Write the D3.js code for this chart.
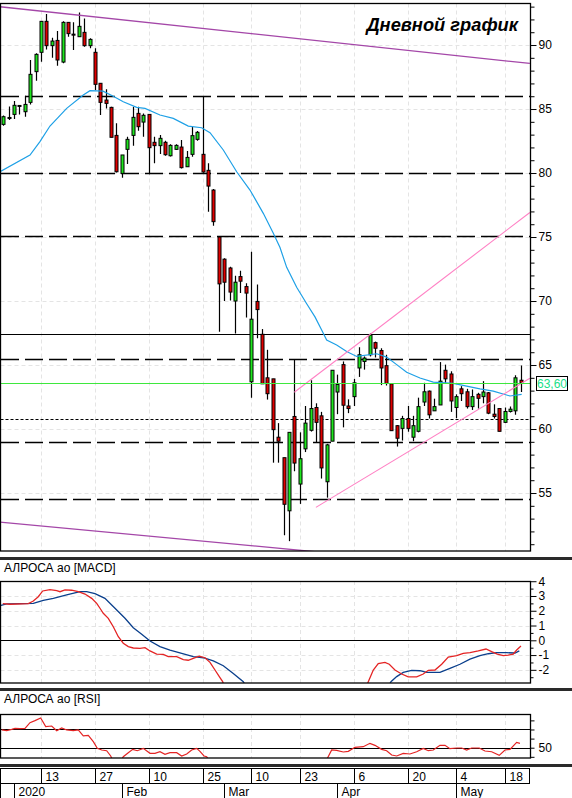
<!DOCTYPE html>
<html><head><meta charset="utf-8">
<script src="https://cdn.jsdelivr.net/npm/d3@7"></script>
<style>
html,body{margin:0;padding:0;background:#fff;}
svg{display:block;font-family:"Liberation Sans",Arial,sans-serif;}
</style></head><body>
<svg id="c" width="572" height="798"></svg>
<script>
// ---------- DATA ----------
const openP = [83.8,84.32,84.58,85.25,84.79,85.52,87.92,89.43,91.85,89.95,90.36,88.67,91.77,90.85,90.65,90.99,89.95,89.43,87.01,85.70,85.13,82.94,79.97,81.85,82.94,84.66,83.98,84.58,82.40,82.14,82.40,81.35,81.85,82.03,80.49,81.46,82.63,81.46,80.21,78.67,
75.00,73.27,72.58,70.00,71.91,71.13,63.69,69.97,67.40,64.00,63.92,59.36,57.76,53.61,60.98,55.70,58.45,59.90,61.68,61.03,55.88,59.05,62.89,65.03,61.80,62.53,64.77,65.28,65.80,66.75,66.13,64.95,63.53,60.26,60.05,60.82,59.36,59.82,62.11,62.96,61.42,61.88,64.59,64.30,61.68,63.14,62.91,61.75,62.71,62.53,62.83,61.16,61.60,60.52,61.37,61.42,63.81];
const highP = [84.5,85.2,85.63,85.3,86.04,88.83,89.35,91.85,92.42,90.57,91.09,91.85,91.77,91.77,92.55,92.08,90.52,89.74,87.01,86.54,85.18,83.88,81.41,82.84,85.18,85.18,84.66,84.58,82.84,82.97,82.53,82.24,82.24,82.58,81.72,83.62,83.28,85.96,80.76,78.75,
75.08,73.35,72.68,71.98,72.37,71.39,73.84,71.29,67.81,66.19,63.92,60.46,57.76,59.74,65.46,59.74,61.80,63.81,62.01,61.34,58.84,64.59,64.25,65.28,62.32,63.92,66.39,65.67,67.47,66.83,66.31,65.80,63.53,60.31,61.03,61.80,61.03,62.45,63.61,63.01,62.37,65.23,65.03,64.51,62.71,63.35,63.14,63.09,62.83,63.74,62.89,61.93,61.60,61.68,61.75,64.20,64.97];
const lowP = [83.7,84.15,84.22,84.58,84.40,85.36,87.21,88.70,89.66,89.01,88.39,88.57,90.65,89.61,90.65,89.87,89.74,86.48,84.53,85.05,82.79,80.05,79.64,80.70,82.14,83.31,82.84,79.90,80.76,81.48,81.35,81.30,81.80,80.36,80.49,81.28,82.53,80.03,76.98,75.89,
67.60,70.00,70.05,67.47,70.62,68.71,62.45,67.09,63.53,62.30,57.37,57.37,51.70,51.24,56.70,54.15,58.20,59.80,58.97,56.13,54.64,59.05,61.16,60.13,61.24,61.80,64.07,64.64,65.67,65.59,63.43,63.40,59.87,58.63,59.10,59.79,59.05,59.74,61.80,60.82,61.42,61.88,63.61,61.34,60.85,62.19,61.60,61.49,61.60,62.01,61.16,60.82,59.82,60.46,61.29,61.11,62.89];
const closeP = [84.4,84.34,85.29,85.28,85.36,87.71,89.27,91.85,89.95,90.31,88.83,91.77,90.89,90.80,91.46,89.95,90.44,86.93,85.52,85.44,82.79,80.10,81.41,82.63,84.35,83.62,84.51,81.98,82.14,82.71,81.43,82.16,82.16,80.42,81.22,82.92,83.18,80.08,78.98,76.20,
71.34,71.47,70.70,71.47,71.55,70.62,68.58,69.33,63.53,62.76,59.95,59.05,54.12,59.74,57.34,57.68,60.46,61.60,60.52,56.96,58.76,64.59,63.48,61.86,61.60,63.61,65.80,65.54,67.34,66.31,64.77,63.56,59.87,59.28,60.82,60.05,60.26,61.75,62.91,61.11,61.75,63.74,63.92,62.19,62.53,62.76,61.75,62.53,62.40,62.89,61.24,60.98,59.82,61.37,61.55,64.00,63.60];

// moving average : candle index / value
const maIdx = [-0.6,4.95,6.8,8.66,11.76,14.84,16.09,18.5,20.4,22.26,24.75,26.29,29.07,31.54,34.32,36.8,38.35,40.82,43.3,45.77,48.24,50.1,51.34,52.58,54.43,56.29,57.83,59.07,60.0,61.85,63.71,65.57,69.28,71.13,72.99,74.84,77.31,79.78,83.49,85.97,88.44,90.91,94.01,96.18];
const maVal = [80.1,81.4,82.45,83.67,85.05,86.1,86.43,86.4,86.0,85.57,85.13,85.05,84.53,84.27,83.67,83.54,83.15,81.8,80.1,78.67,76.85,75.29,74.18,72.63,71.08,69.79,68.76,67.73,66.96,66.57,66.06,65.67,65.88,65.62,65.03,64.43,63.99,63.66,63.56,63.35,63.14,62.96,62.58,62.71];

// horizontal levels
const dashedLevels = [85.99, 79.97, 75.05, 65.44, 58.96, 54.51];
const solidLevel = 67.40;
const dottedLevel = 60.78;
const lastPrice = 63.60;
const lastPriceLabel = "63,60";

// trend lines: [index, value] endpoints
const purpleLines = [[[-0.61, 92.99], [97.7, 88.56]], [[-0.61, 52.73], [60.0, 50.33]]];
const pinkLines = [[[54.0, 62.87], [97.7, 76.92]], [[58.0, 53.88], [97.7, 63.96]]];

// MACD (red) and signal (blue)
const macdIdx = [-0.1,1.24,4.64,5.57,6.49,7.31,8.66,9.91,10.52,11.45,12.69,13.91,15.16,16.4,17.33,17.94,18.55,19.48,20.41,21.34,22.26,23.19,24.12,25.36,26.29,27.22,28.46,29.68,30.61,32.17,33.4,34.32,35.25,36.36,37.42,38.35,39.28,40.2,40.7,41.0,55,67.4,67.72,68.65,69.57,70.81,71.61,72.67,73.91,75.14,76.7,77.92,78.85,80.09,81.34,82.56,84.12,85.34,86.59,88.13,89.56,90.61,91.65,92.76,93.69,94.62,95.25,96.05];
const macdVal = [2.48,2.44,2.48,2.66,2.95,3.34,3.43,3.36,3.29,3.41,3.39,3.29,3.13,2.84,2.50,2.17,1.83,1.49,0.92,0.24,-0.20,-0.43,-0.52,-0.54,-0.50,-0.72,-0.93,-0.95,-1.11,-1.11,-1.31,-1.35,-1.22,-1.08,-1.18,-1.49,-2.01,-2.53,-2.80,-3.1,null,-3.1,-2.80,-2.01,-1.58,-1.49,-1.62,-2.01,-2.28,-2.48,-2.48,-2.28,-2.03,-2.01,-1.62,-1.13,-1.04,-0.88,-0.84,-0.72,-0.59,-0.77,-0.93,-1.04,-1.0,-0.93,-0.66,-0.39];
const signalIdx = [-0.61,0.63,5.57,7.42,9.28,11.76,14.23,15.47,17.01,18.86,20.72,22.58,24.12,25.68,27.22,29.07,30.93,33.1,35.25,37.11,38.96,40.82,42.67,44.53,44.84,58,71.65,71.93,72.99,74.21,75.77,77.31,78.55,81.02,82.87,84.73,86.59,88.44,89.98,91.54,93.4,94.94,95.74];
const signalVal = [2.34,2.46,2.5,2.71,2.84,3.07,3.29,3.29,3.16,2.84,2.17,1.49,0.85,0.41,-0.05,-0.43,-0.66,-0.88,-1.11,-1.18,-1.40,-1.72,-2.24,-2.80,-3.0,null,-3.0,-2.80,-2.46,-2.17,-2.03,-2.06,-2.17,-2.17,-1.90,-1.62,-1.27,-1.04,-0.91,-0.84,-0.84,-0.86,-0.72];

// RSI
const rsiIdx = [-0.3,0.63,1.56,2.17,3.1,4.03,4.95,5.88,6.94,7.87,8.98,9.91,10.83,11.76,12.99,13.91,14.84,15.77,16.7,17.44,18.26,19.18,19.93,20.2,21,22.0,22.26,23.19,24.01,24.86,25.97,27.22,28.14,29.07,30.0,30.93,32.17,33.1,34.03,34.95,35.88,36.49,37.24,37.74,38.0,50,60.1,60.93,61.85,63.08,64.01,65.25,66.79,68.03,68.96,70.2,71.13,72.06,72.99,74.21,75.45,76.7,77.92,78.85,79.78,81.02,81.95,82.87,84.12,85.05,85.97,86.9,88.31,89.37,90.61,92.02,93.08,94.01,95.25,95.86];
const rsiVal = [69.5,68.7,70.2,71.3,70.9,71.3,77.5,79.7,82.6,73.1,73.8,68.7,71.6,69.5,68.7,69.5,62.9,63.6,56.6,49.3,47.5,46.7,40.9,37.5,null,37.5,40.1,44.5,48.2,46.7,49.3,43.8,43.8,45.6,42.7,44.5,44.5,40.9,43.1,47.5,49.3,46.0,40.9,40.1,37.5,null,38.0,47.5,47.1,45.3,46.0,50.4,51.1,54.8,52.6,48.2,46.7,42.0,40.9,43.8,43.1,45.6,49.3,46.7,47.5,52.6,52.6,48.9,49.7,49.7,47.5,49.7,49.7,46.4,45.6,41.6,47.5,48.2,55.9,54.8];

// axes labels
const priceTicks = [55,60,65,70,75,80,85,90];
const macdTicks = [4,3,2,1,0,-1,-2];
const rsiTicks = [40,50,60,70,80];
const rsiLabelled = [50];
const rsiLevels = [70,50];
const dateTickIdx = [7,17,27,37,46,55,65,75,84,93];
const dateTickLbl = ["13","27","10","25","10","23","6","20","4","18"];
const monthIdx = [2,22,41,62,84];
const monthLbl = ["2020","Feb","Mar","Apr","May"];
const chartTitle = "Дневной график";
const macdTitle = "АЛРОСА ао [MACD]";
const rsiTitle = "АЛРОСА ао [RSI]";

// ---------- DRAWING ----------
const svg = d3.select("#c");
const PL = 0.5, PR = 530.5;
const x = d3.scaleLinear().domain([0, 96]).range([3.3, 520.7]);
const yP = d3.scaleLinear().domain([50.47, 93.26]).range([551, 3.3]);
const yM = d3.scaleLinear().domain([-2.891, 4.015]).range([683, 581]);
const yR = d3.scaleLinear().domain([38.7, 87]).range([758, 714]);
const GRID = "#e4e4e4";

const defs = svg.append("defs");
function clip(id, y0, y1) {
  defs.append("clipPath").attr("id", id).append("rect")
    .attr("x", PL).attr("y", y0).attr("width", PR - PL).attr("height", y1 - y0);
}
clip("cp", 3.5, 551); clip("cm", 581, 683); clip("cr", 714, 758);

function vgrid(g, y0, y1) {
  g.selectAll(null).data(dateTickIdx).join("line")
    .attr("x1", d => Math.round(x(d)) + 0.5).attr("x2", d => Math.round(x(d)) + 0.5)
    .attr("y1", y0).attr("y2", y1)
    .attr("stroke", GRID).attr("stroke-dasharray", "4,3");
}
function hgrid(g, vals, sc) {
  g.selectAll(null).data(vals).join("line")
    .attr("x1", PL).attr("x2", PR)
    .attr("y1", d => Math.round(sc(d)) + 0.5).attr("y2", d => Math.round(sc(d)) + 0.5)
    .attr("stroke", GRID).attr("stroke-dasharray", "4,3");
}

// ===== main price panel =====
const gp = svg.append("g").attr("clip-path", "url(#cp)");
vgrid(gp, 3.5, 551);
hgrid(gp, priceTicks, yP);

gp.selectAll(null).data(dashedLevels).join("line")
  .attr("x1", 1).attr("x2", PR)
  .attr("y1", d => Math.round(yP(d)) + 0.5).attr("y2", d => Math.round(yP(d)) + 0.5)
  .attr("stroke", "#000").attr("stroke-width", 1.3).attr("stroke-dasharray", "18,6");
gp.append("line").attr("x1", PL).attr("x2", PR)
  .attr("y1", Math.round(yP(solidLevel)) + 0.5).attr("y2", Math.round(yP(solidLevel)) + 0.5)
  .attr("stroke", "#000").attr("stroke-width", 1.2);
gp.append("line").attr("x1", PL).attr("x2", PR)
  .attr("y1", Math.round(yP(dottedLevel)) + 0.5).attr("y2", Math.round(yP(dottedLevel)) + 0.5)
  .attr("stroke", "#000").attr("stroke-width", 1.2).attr("stroke-dasharray", "3,2");

// candles
const idx = d3.range(openP.length);
const cg = gp.append("g");
cg.selectAll("line.w").data(idx).join("line").attr("class", "w")
  .attr("x1", i => Math.round(x(i)) + 0.5).attr("x2", i => Math.round(x(i)) + 0.5)
  .attr("y1", i => yP(highP[i])).attr("y2", i => yP(lowP[i]))
  .attr("stroke", "#000").attr("stroke-width", 1.2);
cg.selectAll("rect.b").data(idx).join("rect").attr("class", "b")
  .attr("x", i => Math.round(x(i)) - 1).attr("width", 3)
  .attr("y", i => yP(Math.max(openP[i], closeP[i])))
  .attr("height", i => Math.max(1, Math.abs(yP(openP[i]) - yP(closeP[i]))))
  .attr("fill", i => closeP[i] >= openP[i] ? "#1ee61e" : "#e00000")
  .attr("stroke", "#000").attr("stroke-width", 1);

// moving average
gp.append("path").datum(maIdx.map((d, i) => [d, maVal[i]]))
  .attr("d", d3.line().x(d => x(d[0])).y(d => yP(d[1])))
  .attr("fill", "none").attr("stroke", "#1ea0e6").attr("stroke-width", 1.2);

// trend lines
purpleLines.forEach(l => gp.append("line")
  .attr("x1", x(l[0][0])).attr("y1", yP(l[0][1])).attr("x2", x(l[1][0])).attr("y2", yP(l[1][1]))
  .attr("stroke", "#a447a8").attr("stroke-width", 1.3));
pinkLines.forEach(l => gp.append("line")
  .attr("x1", x(l[0][0])).attr("y1", yP(l[0][1])).attr("x2", x(l[1][0])).attr("y2", yP(l[1][1]))
  .attr("stroke", "#ff80c4").attr("stroke-width", 1.1));

// last price line
gp.append("line").attr("x1", PL).attr("x2", PR)
  .attr("y1", Math.round(yP(lastPrice)) + 0.5).attr("y2", Math.round(yP(lastPrice)) + 0.5)
  .attr("stroke", "#3ee83e").attr("stroke-width", 1);

// frame
svg.append("rect").attr("x", 0.5).attr("y", 3.5).attr("width", 530).attr("height", 547.5)
  .attr("fill", "none").attr("stroke", "#000").attr("stroke-width", 1.3);

// title
svg.append("text").attr("x", 518).attr("y", 31).attr("text-anchor", "end")
  .attr("font-size", 18.3).attr("font-weight", "bold").attr("font-style", "italic")
  .attr("fill", "#000").text(chartTitle);

function styleAxis(g) {
  g.select(".domain").remove();
  g.selectAll("line").attr("stroke", "#000");
  g.selectAll("text").attr("font-family", "'Liberation Sans',Arial,sans-serif")
    .attr("font-size", 12).attr("fill", "#000");
}
// price axis
const minorP = d3.range(51, 94, 1).filter(v => priceTicks.indexOf(v) < 0);
svg.append("g").attr("transform", "translate(530.5,0)")
  .call(d3.axisRight(yP).tickValues(minorP).tickSize(4).tickFormat(""))
  .call(styleAxis);
svg.append("g").attr("transform", "translate(530.5,0)")
  .call(d3.axisRight(yP).tickValues(priceTicks).tickSize(6).tickPadding(2).tickFormat(d => String(d)))
  .call(styleAxis);

// last price label
const ly = Math.round(yP(lastPrice));
svg.append("rect").attr("x", 536.5).attr("y", ly - 6.5).attr("width", 31).attr("height", 14)
  .attr("fill", "#fff").attr("stroke", "#000").attr("stroke-width", 1);
svg.append("text").attr("x", 552).attr("y", ly + 5).attr("text-anchor", "middle")
  .attr("font-size", 12).attr("fill", "#18e088").text(lastPriceLabel);

// separators
[557, 688, 764].forEach(y0 => svg.append("rect").attr("x", 0).attr("y", y0)
  .attr("width", 572).attr("height", 3).attr("fill", "#2a2a2a"));

// ===== MACD panel =====
svg.append("text").attr("x", 4).attr("y", 572).attr("font-size", 12).attr("fill", "#000").text(macdTitle);
const gm = svg.append("g").attr("clip-path", "url(#cm)");
vgrid(gm, 581, 683);
hgrid(gm, macdTicks.filter(v => v !== 0 && v !== 4), yM);
gm.append("line").attr("x1", PL).attr("x2", PR)
  .attr("y1", Math.round(yM(0)) + 0.5).attr("y2", Math.round(yM(0)) + 0.5)
  .attr("stroke", "#000").attr("stroke-width", 1.2);
const lineDef = sc => d3.line().defined(d => d[1] !== null).x(d => x(d[0])).y(d => sc(d[1]));
gm.append("path").datum(signalIdx.map((d, i) => [d, signalVal[i]]))
  .attr("d", lineDef(yM)).attr("fill", "none").attr("stroke", "#0a3f8c").attr("stroke-width", 1.3);
gm.append("path").datum(macdIdx.map((d, i) => [d, macdVal[i]]))
  .attr("d", lineDef(yM)).attr("fill", "none").attr("stroke", "#e42424").attr("stroke-width", 1.3);
svg.append("rect").attr("x", 0.5).attr("y", 581.5).attr("width", 530).attr("height", 101.5)
  .attr("fill", "none").attr("stroke", "#000").attr("stroke-width", 1.3);
const minorM = d3.range(-2.5, 4, 1);
svg.append("g").attr("transform", "translate(530.5,0)")
  .call(d3.axisRight(yM).tickValues(minorM).tickSize(3).tickFormat("")).call(styleAxis);
svg.append("g").attr("transform", "translate(530.5,0)")
  .call(d3.axisRight(yM).tickValues(macdTicks).tickSize(6).tickPadding(2).tickFormat(d => String(d)))
  .call(styleAxis);

// ===== RSI panel =====
svg.append("text").attr("x", 4).attr("y", 703).attr("font-size", 12).attr("fill", "#000").text(rsiTitle);
const gr = svg.append("g").attr("clip-path", "url(#cr)");
vgrid(gr, 714, 758);
gr.selectAll(null).data(rsiLevels).join("line")
  .attr("x1", PL).attr("x2", PR)
  .attr("y1", d => Math.round(yR(d)) + 0.5).attr("y2", d => Math.round(yR(d)) + 0.5)
  .attr("stroke", "#000").attr("stroke-width", 1.2);
gr.append("path").datum(rsiIdx.map((d, i) => [d, rsiVal[i]]))
  .attr("d", lineDef(yR)).attr("fill", "none").attr("stroke", "#e42424").attr("stroke-width", 1.2);
svg.append("rect").attr("x", 0.5).attr("y", 714.5).attr("width", 530).attr("height", 43.5)
  .attr("fill", "none").attr("stroke", "#000").attr("stroke-width", 1.3);
svg.append("g").attr("transform", "translate(530.5,0)")
  .call(d3.axisRight(yR).tickValues(rsiTicks).tickSize(4).tickPadding(4)
    .tickFormat(d => rsiLabelled.indexOf(d) >= 0 ? String(d) : ""))
  .call(styleAxis);

// ===== date axis =====
const gd = svg.append("g").attr("font-size", 12);
gd.append("line").attr("x1", 0).attr("x2", 530).attr("y1", 768.5).attr("y2", 768.5).attr("stroke", "#000");
gd.append("line").attr("x1", 0).attr("x2", 530).attr("y1", 783.5).attr("y2", 783.5).attr("stroke", "#000");
gd.append("line").attr("x1", 529.5).attr("x2", 529.5).attr("y1", 768).attr("y2", 783.5).attr("stroke", "#000");
gd.append("line").attr("x1", 0.5).attr("x2", 0.5).attr("y1", 768).attr("y2", 798).attr("stroke", "#000");
dateTickIdx.forEach((d, i) => {
  const px = Math.round(x(d)) + 0.5;
  gd.append("line").attr("x1", px).attr("x2", px).attr("y1", 768).attr("y2", 783.5).attr("stroke", "#000");
  gd.append("text").attr("x", px + 4).attr("y", 780.5).attr("fill", "#000").text(dateTickLbl[i]);
});
monthIdx.forEach((d, i) => {
  const px = Math.round(x(d)) + 0.5;
  gd.append("line").attr("x1", px).attr("x2", px).attr("y1", 783.5).attr("y2", 798).attr("stroke", "#000");
  gd.append("text").attr("x", px + 4).attr("y", 795.5).attr("fill", "#000").text(monthLbl[i]);
});
</script>
</body></html>
